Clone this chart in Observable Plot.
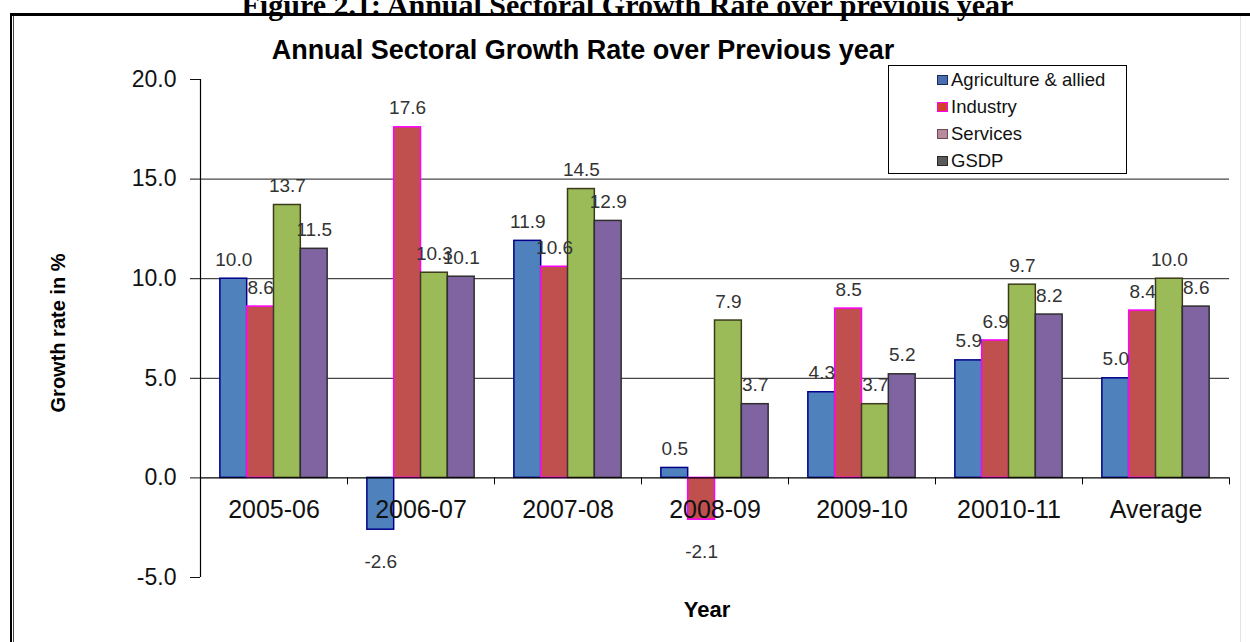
<!DOCTYPE html>
<html>
<head>
<meta charset="utf-8">
<script src="https://cdn.jsdelivr.net/npm/d3@7"></script>
<script src="https://cdn.jsdelivr.net/npm/@observablehq/plot@0.6"></script>
<style>
  html, body { margin: 0; padding: 0; background: #fff; width: 1250px; height: 642px; overflow: hidden; position: relative; }
  #figtitle { position: absolute; left: 0; width: 1255px; text-align: center; top: -10px; font: bold 30px/30px "Liberation Serif", "Times New Roman", serif; color: #000; white-space: nowrap; }
  #outer { position: absolute; left: 10px; top: 13px; width: 1250px; height: 660px; border-top: 3px solid #000; border-left: 2px solid #000; box-sizing: border-box; }
  #inner { position: absolute; left: 13px; top: 16px; width: 1228px; height: 660px; border-left: 1px solid #444; border-right: 1px solid #e4e4e4; box-sizing: border-box; }
  #chart { position: absolute; left: 0; top: 0; }
  #ctitle { position: absolute; left: 0; width: 1166px; text-align: center; top: 35px; font: bold 27px/30px "Liberation Sans", Arial, sans-serif; color: #000; white-space: nowrap; }
  #ytitle { position: absolute; left: -42px; top: 321px; width: 200px; text-align: center; font: bold 20px/24px "Liberation Sans", Arial, sans-serif; transform: rotate(-90deg); transform-origin: 100px 12px; white-space: nowrap; }
  #xtitle { position: absolute; left: 607px; top: 598px; width: 200px; text-align: center; font: bold 22px/24px "Liberation Sans", Arial, sans-serif; }
  #legend { position: absolute; left: 888px; top: 65px; width: 239px; height: 109px; border: 1px solid #000; background: #fff; box-sizing: border-box; font: 18.5px "Liberation Sans", Arial, sans-serif; color: #111; }
  .lrow { height: 27px; display: flex; align-items: center; padding-left: 48px; }
  .lkey { width: 9px; height: 8px; border: 1.5px solid #000; margin-right: 3px; flex: none; }
</style>
</head>
<body>
<div id="figtitle">Figure 2.1: Annual Sectoral Growth Rate over previous year</div>
<div id="outer"></div>
<div id="inner"></div>
<div id="chart"></div>
<div id="ctitle">Annual Sectoral Growth Rate over Previous year</div>
<div id="ytitle">Growth rate in %</div>
<div id="xtitle">Year</div>
<div id="legend"></div>
<script>
// ---- data ----
const years = ["2005-06", "2006-07", "2007-08", "2008-09", "2009-10", "20010-11", "Average"];
const sectors = ["Agriculture & allied", "Industry", "Services", "GSDP"];
const agriculture = [10.0, -2.6, 11.9, 0.5, 4.3, 5.9, 5.0];
const industry    = [8.6, 17.6, 10.6, -2.1, 8.5, 6.9, 8.4];
const services    = [13.7, 10.3, 14.5, 7.9, 3.7, 9.7, 10.0];
const gsdp        = [11.5, 10.1, 12.9, 3.7, 5.2, 8.2, 8.6];
const yTicks = [-5, 0, 5, 10, 15, 20];
const gridValues = [5, 10, 15];

// ---- styles ----
const fills   = ["#4F81BD", "#C0504D", "#9BBB59", "#8064A2"];
const strokes = ["#00008B", "#FF00FF", "#3d3a1c", "#2e2e2e"];
const legendFills   = ["#4a6fae", "#d0402a", "#b88a9c", "#5a5a5a"];
const legendStrokes = ["#1a2a5a", "#ff00ff", "#6a4a58", "#2a2a2a"];

const series = [agriculture, industry, services, gsdp];
const rows = [];
series.forEach((vals, si) => vals.forEach((v, yi) => rows.push({year: years[yi], sector: sectors[si], si, value: v})));

const gap = 0.74;
const xDomain = [-gap, sectors.length + gap];

const chart = Plot.plot({
  width: 1250,
  height: 642,
  marginLeft: 199,
  marginRight: 21,
  marginTop: 79,
  marginBottom: 65,
  style: {fontFamily: "'Liberation Sans', Arial, sans-serif", background: "transparent", overflow: "visible"},
  fx: {domain: years, padding: 0, axis: null, label: null},
  x: {domain: xDomain, axis: null},
  y: {domain: [yTicks[0], yTicks[yTicks.length - 1]], axis: null},
  marks: [
    Plot.ruleY(gridValues, {stroke: "#1a1a1a", strokeWidth: 1}),
    ...sectors.map((s, si) => Plot.rect(rows.filter(d => d.si === si), {
      fx: "year",
      x1: d => d.si,
      x2: d => d.si + 1,
      y1: () => 0,
      y2: "value",
      fill: fills[si],
      stroke: strokes[si],
      strokeWidth: 1.5
    })),
    Plot.ruleY([0], {stroke: "#000", strokeWidth: 1.2}),
    Plot.ruleX([years[0]], {fx: d => d, x: () => xDomain[0], y1: () => yTicks[0], y2: () => yTicks[yTicks.length - 1], stroke: "#000", strokeWidth: 1.2}),
    Plot.ruleX(years, {fx: d => d, x: () => xDomain[0], y1: () => 0, y2: () => -0.35, stroke: "#000"}),
    Plot.ruleX([years[years.length - 1]], {fx: d => d, x: () => xDomain[1], y1: () => 0, y2: () => -0.35, stroke: "#000"}),
    Plot.axisY({ticks: yTicks, tickFormat: d => d.toFixed(1), tickSize: 10, tickPadding: 14, fontSize: 23, label: null, color: "#111"}),
    Plot.text(rows.filter(d => d.value >= 0), {fx: "year", x: d => d.si + 0.5, y: "value", text: d => d.value.toFixed(1), dy: -19, fontSize: 19, fill: "#333"}),
    Plot.text(rows.filter(d => d.value < 0), {fx: "year", x: d => d.si + 0.5, y: "value", text: d => d.value.toFixed(1), dy: 32, fontSize: 19, fill: "#333"}),
    Plot.text(years, {fx: d => d, y: () => 0, text: d => d, dy: 32, fontSize: 25, fill: "#111"})
  ]
});
document.getElementById("chart").appendChild(chart);

// legend
const legend = document.getElementById("legend");
sectors.forEach((s, i) => {
  const row = document.createElement("div");
  row.className = "lrow";
  const key = document.createElement("span");
  key.className = "lkey";
  key.style.background = legendFills[i];
  key.style.borderColor = legendStrokes[i];
  const label = document.createElement("span");
  label.textContent = s;
  row.appendChild(key);
  row.appendChild(label);
  legend.appendChild(row);
});
</script>
</body>
</html>
